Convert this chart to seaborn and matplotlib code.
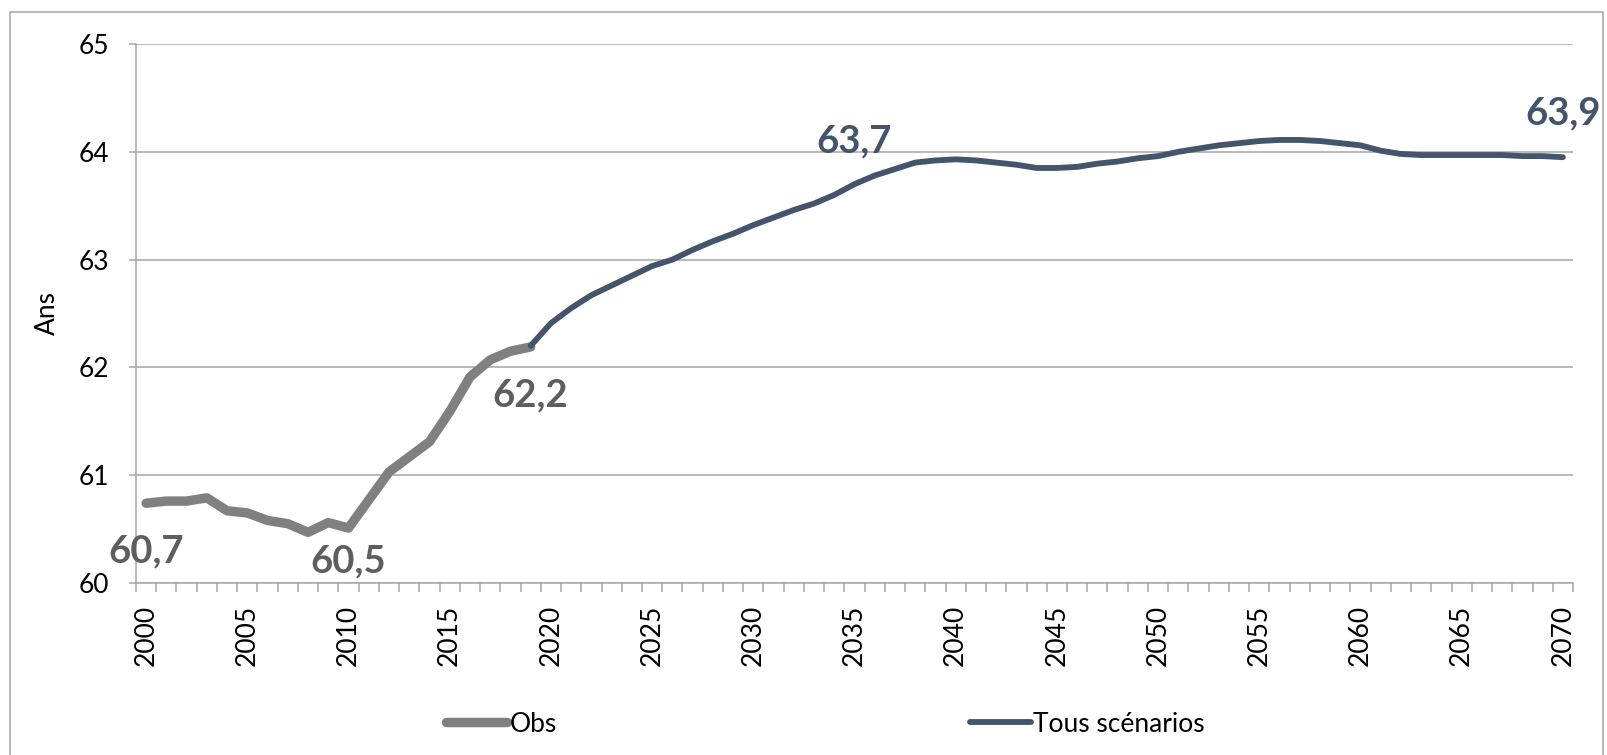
import matplotlib
matplotlib.use("Agg")
import matplotlib.pyplot as plt
import seaborn as sns
import pandas as pd
from matplotlib.patches import Rectangle
from matplotlib.ticker import FixedLocator

# ---- data ----
obs_years = list(range(2000, 2020))
obs_values = [60.74, 60.76, 60.76, 60.79, 60.67, 60.65, 60.58, 60.55, 60.47, 60.56,
              60.51, 60.77, 61.03, 61.17, 61.31, 61.59, 61.91, 62.07, 62.15, 62.19]

proj_years = list(range(2019, 2071))
proj_values = [62.20, 62.41, 62.55, 62.67, 62.76, 62.85, 62.94, 63.00, 63.09, 63.17,
               63.24, 63.32, 63.39, 63.46, 63.52, 63.60, 63.70, 63.78, 63.84, 63.90,
               63.92, 63.93, 63.92, 63.90, 63.88, 63.85, 63.85, 63.86, 63.89, 63.91,
               63.94, 63.96, 64.00, 64.03, 64.06, 64.08, 64.10, 64.11, 64.11, 64.10,
               64.08, 64.06, 64.01, 63.98, 63.97, 63.97, 63.97, 63.97, 63.97, 63.96,
               63.96, 63.95]

series_names = ["Obs", "Tous scénarios"]
y_ticks = [60, 61, 62, 63, 64, 65]
x_label_years = list(range(2000, 2071, 5))

# labels: (text, year, y position of label, series)
label_texts = ["60,7", "60,5", "62,2", "63,7", "63,9"]
label_years = [2000, 2010, 2019, 2035, 2070]
label_ypos = [60.29, 60.20, 61.74, 64.10, 64.36]
label_series = [0, 0, 0, 1, 1]

y_axis_label = "Ans"

# ---- style ----
sns.set_theme(style="white")
plt.rcParams["font.family"] = ["Lato", "DejaVu Sans"]

c_obs = "#808080"
c_proj = "#44546A"
c_obs_lbl = "#5E5E5E"
grid_c = "#A6A6A6"
fs = 19

fig = plt.figure(figsize=(16.08, 7.55), dpi=100)
ax = fig.add_axes([136 / 1608, 1 - 583 / 755, (1573 - 136) / 1608, (583 - 44) / 755])

df_obs = pd.DataFrame({"year": obs_years, "value": obs_values})
df_proj = pd.DataFrame({"year": proj_years, "value": proj_values})

sns.lineplot(data=df_obs, x="year", y="value", ax=ax, color=c_obs, linewidth=6.8,
             label=series_names[0], solid_capstyle="round", solid_joinstyle="round", zorder=3)
sns.lineplot(data=df_proj, x="year", y="value", ax=ax, color=c_proj, linewidth=4.2,
             label=series_names[1], solid_capstyle="round", solid_joinstyle="round", zorder=4)

ax.set_xlim(1999.5, 2070.5)
ax.set_ylim(60, 65)

ax.set_yticks(y_ticks)
ax.set_yticklabels([str(v) for v in y_ticks], fontsize=fs, color="black")
ax.grid(axis="y", color=grid_c, linewidth=1.1)
ax.grid(axis="x", visible=False)

ax.set_xticks(x_label_years)
ax.set_xticklabels([str(v) for v in x_label_years], rotation=90, fontsize=fs, color="black")
ax.xaxis.set_minor_locator(FixedLocator([1999.5 + k for k in range(72)]))
ax.tick_params(axis="x", which="major", length=0, pad=16)
ax.tick_params(axis="x", which="minor", length=6.5, width=1.1, color=grid_c, direction="out", bottom=True)
ax.tick_params(axis="y", which="major", length=5, width=1.1, color=grid_c, direction="out", pad=14, left=True)

for s in ["top", "right"]:
    ax.spines[s].set_visible(False)
for s in ["left", "bottom"]:
    ax.spines[s].set_color(grid_c)
    ax.spines[s].set_linewidth(1.1)

ax.set_xlabel("")
ax.set_ylabel(y_axis_label, fontsize=fs, color="black", labelpad=14)

for txt, yr, yp, si in zip(label_texts, label_years, label_ypos, label_series):
    ax.text(yr, yp, txt, ha="center", va="center", fontsize=27.5, fontweight="bold",
            color=c_obs_lbl if si == 0 else c_proj, clip_on=False, zorder=5)

# legend: two entries placed like the reference
handles, labels = ax.get_legend_handles_labels()
leg_kw = dict(loc="center left", bbox_transform=fig.transFigure, frameon=False, fontsize=fs,
              handlelength=2.3, handletextpad=0.1, borderaxespad=0, borderpad=0)
leg1 = ax.legend([handles[0]], [labels[0]], bbox_to_anchor=(446 / 1608, 1 - 724 / 755), **leg_kw)
ax.add_artist(leg1)
leg2 = ax.legend([handles[1]], [labels[1]], bbox_to_anchor=(970 / 1608, 1 - 724 / 755), **leg_kw)
for lg in (leg1, leg2):
    for t in lg.get_texts():
        t.set_color("black")

# outer chart border
fig.patches.append(Rectangle((10 / 1608, -0.02), (1603 - 10) / 1608, 1.02 - 12 / 755,
                             transform=fig.transFigure, fill=False, edgecolor=grid_c,
                             linewidth=1.1, zorder=0))

fig.savefig("out.png", dpi=100)
